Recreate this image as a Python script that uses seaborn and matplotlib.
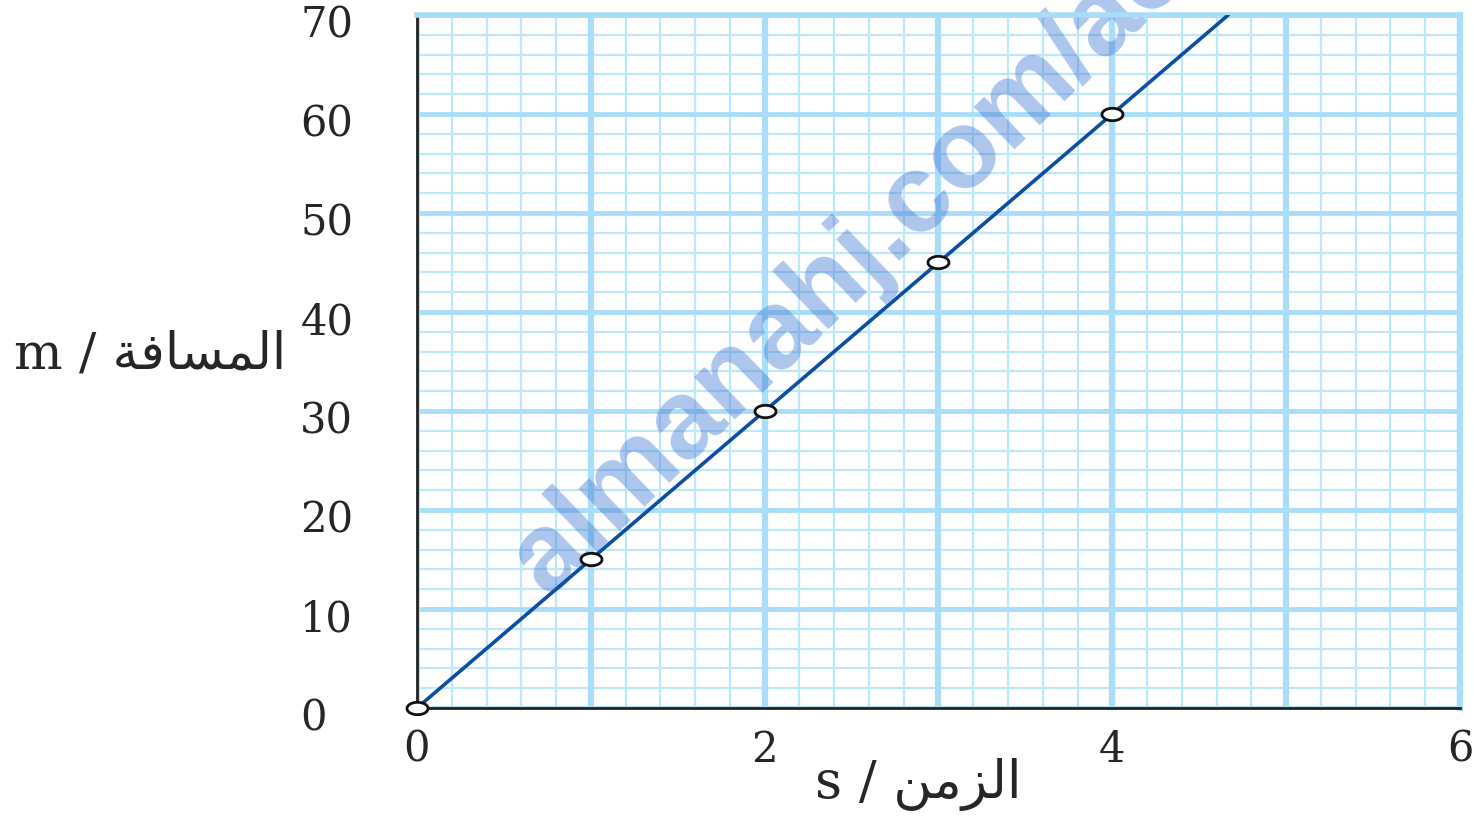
import numpy as np
import pandas as pd
import matplotlib
matplotlib.use("Agg")
import matplotlib.pyplot as plt
import matplotlib.transforms as mtransforms
import seaborn as sns
from matplotlib.path import Path

# data
time_s = [0, 1, 2, 3, 4]
distance_m = [0, 15, 30, 45, 60]
x_ticks = [0, 2, 4, 6]
y_ticks = [0, 10, 20, 30, 40, 50, 60, 70]
x_label = "s / " + "\ufee6\ufee3\ufeb0\ufedf\ufe8d"          # الزمن (visual order)
y_label = "m / " + "\ufe94\ufed3\ufe8e\ufeb4\ufee4\ufedf\ufe8d"  # المسافة (visual order)
watermark = "almanahj.com/ae"

df = pd.DataFrame({"t": time_s, "d": distance_m})

sns.set_style("white")
plt.rcParams["font.family"] = ["DejaVu Serif", "DejaVu Sans"]

fig = plt.figure(figsize=(14.74, 8.16), dpi=100)
ax = fig.add_axes([0.2829, 0.1324, 0.9905 - 0.2829, 0.9816 - 0.1324])

grid_major = "#a9ddf8"
grid_minor = "#bde7fb"

ax.set_xlim(0, 6)
ax.set_ylim(0, 70)
ax.set_xticks(x_ticks)
ax.set_yticks(y_ticks)

# graph paper
for xv in np.arange(0, 6.01, 0.2):
    if abs(xv - round(xv)) < 1e-6:
        ax.axvline(xv, color=grid_major, lw=4.5, zorder=0.5)
    else:
        ax.axvline(xv, color=grid_minor, lw=1.6, zorder=0.3)
for yv in np.arange(0, 70.1, 2):
    if int(round(yv)) % 10 == 0:
        ax.axhline(yv, color=grid_major, lw=3.5, zorder=0.5)
    else:
        ax.axhline(yv, color=grid_minor, lw=1.6, zorder=0.3)

ax.text(0.125, 0.16, watermark, transform=ax.transAxes, fontsize=80,
        family="Liberation Sans", weight="bold", color="#3f78d2", alpha=0.42,
        rotation=44, rotation_mode="anchor", ha="left", va="baseline",
        zorder=2, clip_on=False)

# best fit line through the points, extended to the top of the graph
slope = np.polyfit(df["t"], df["d"], 1)[0]
line_x = [0, 70 / slope]
sns.lineplot(x=line_x, y=[slope * v for v in line_x], ax=ax,
             color="#0b4ea2", lw=2.6, zorder=3)

tt = np.linspace(0, 2 * np.pi, 60)
ellipse = Path(np.column_stack([1.7 * np.cos(tt), np.sin(tt)]))
sns.scatterplot(data=df, x="t", y="d", ax=ax, marker=ellipse, s=230,
                facecolor="white", edgecolor="#111111", linewidth=2,
                zorder=5, clip_on=False)

ax.spines["top"].set_color(grid_major)
ax.spines["top"].set_linewidth(4)
ax.spines["right"].set_color(grid_major)
ax.spines["right"].set_linewidth(4.5)
ax.spines["left"].set_color("#222222")
ax.spines["left"].set_linewidth(2)
ax.spines["bottom"].set_color("#222222")
ax.spines["bottom"].set_linewidth(2)

ax.tick_params(axis="y", which="major", direction="out", length=14, width=1.8,
               color="#222222", labelsize=30, pad=70)
ax.tick_params(axis="x", which="major", direction="out", length=9, width=1.8,
               color="#222222", labelsize=30, pad=6)
shift = mtransforms.ScaledTranslation(0, -4 / 72, fig.dpi_scale_trans)
for lab in ax.get_yticklabels():
    lab.set_horizontalalignment("left")
    lab.set_transform(lab.get_transform() + shift)
ax.set_xlabel("")
ax.set_ylabel("")

fig.text(0.0095, 0.565, y_label, fontsize=37, ha="left", va="center")
fig.text(0.623, 0.038, x_label, fontsize=38, ha="center", va="center")

fig.savefig("out.png", dpi=100)
